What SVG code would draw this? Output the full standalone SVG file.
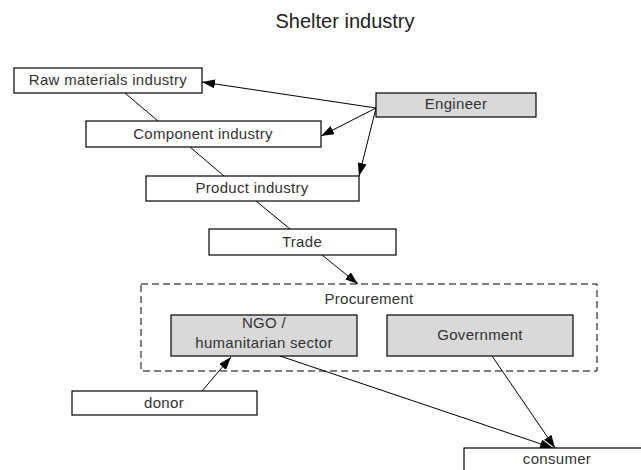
<svg xmlns="http://www.w3.org/2000/svg" width="641" height="470" viewBox="0 0 641 470">
<defs>
<marker id="arr" viewBox="0 0 13 9" refX="13" refY="4.5" markerWidth="13" markerHeight="9" markerUnits="userSpaceOnUse" orient="auto">
<path d="M0,0 L13,4.5 L0,9 Z" fill="#000"/>
</marker>
<style>
.box{fill:#fff;stroke:#000;stroke-width:1.2}
.gray{fill:#d9d9d9;stroke:#000;stroke-width:1.2}
.dash{fill:none;stroke:#000;stroke-width:1;stroke-dasharray:7,4}
text{font-family:"Liberation Sans",Arial,sans-serif;font-size:15px;fill:#333;text-anchor:middle;letter-spacing:0.3px}
.title{font-size:20px;fill:#222;letter-spacing:0}
.c{stroke:#000;stroke-width:1;fill:none}
.a{stroke:#000;stroke-width:1;fill:none;marker-end:url(#arr)}
</style>
</defs>
<rect width="641" height="470" fill="#fff"/>
<text class="title" x="345" y="28">Shelter industry</text>

<g id="connectors">
<line class="c" x1="125" y1="93" x2="158" y2="121"/>
<line class="c" x1="190" y1="147" x2="224" y2="176"/>
<line class="c" x1="256" y1="201" x2="290" y2="229"/>
<line class="a" x1="322" y1="255" x2="358" y2="284"/>
<line class="a" x1="376" y1="108" x2="202" y2="82"/>
<line class="a" x1="376" y1="108" x2="321" y2="136"/>
<line class="a" x1="376" y1="108" x2="359" y2="176"/>
<line class="a" x1="202" y1="391" x2="231" y2="357"/>
<line class="a" x1="280" y1="356" x2="553" y2="448"/>
<line class="a" x1="492" y1="356" x2="555" y2="448"/>
</g>

<g id="raw"><rect class="box" x="14" y="68" width="188" height="25"/><text x="108" y="85">Raw materials industry</text></g>
<g id="component"><rect class="box" x="86" y="121" width="235" height="26"/><text x="203" y="139">Component industry</text></g>
<g id="product"><rect class="box" x="146" y="176" width="213" height="25"/><text x="252" y="193">Product industry</text></g>
<g id="engineer"><rect class="gray" x="376" y="93" width="160" height="24"/><text x="456" y="109">Engineer</text></g>
<g id="trade"><rect class="box" x="209" y="229" width="187" height="26"/><text x="302" y="247">Trade</text></g>
<g id="procurement"><rect class="dash" x="141" y="284" width="456" height="87"/><text x="369" y="304">Procurement</text></g>
<g id="ngo"><rect class="gray" x="171" y="315" width="186" height="41"/><text x="264" y="328">NGO /</text><text x="264" y="348">humanitarian sector</text></g>
<g id="government"><rect class="gray" x="387" y="315" width="186" height="41"/><text x="480" y="340">Government</text></g>
<g id="donor"><rect class="box" x="72" y="391" width="185" height="24"/><text x="164" y="408">donor</text></g>
<g id="consumer"><rect class="box" x="464" y="448" width="186" height="26"/><text x="557" y="464">consumer</text></g>
</svg>
